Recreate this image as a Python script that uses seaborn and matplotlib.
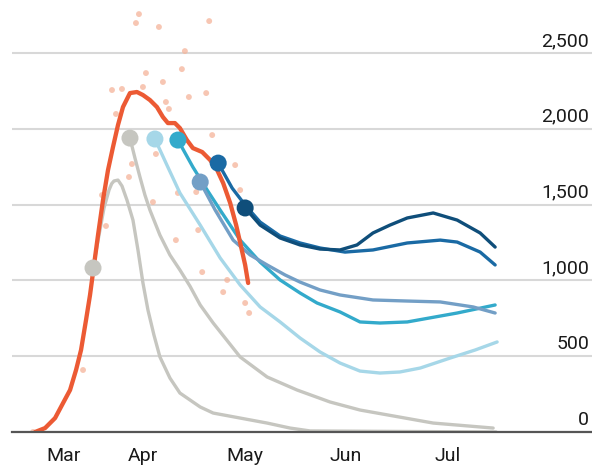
import matplotlib
matplotlib.use("Agg")
import matplotlib.pyplot as plt
import matplotlib.transforms as mtransforms
import pandas as pd
import seaborn as sns

# x values are days counted from 1 March
actual_day = [13.6, 16.6, 19.6, 22.0, 24.1, 25.9, 27.4, 28.9, 30.1, 31.3, 32.5, 34.0,
              35.5, 37.0, 38.5, 40.0, 42.1, 44.2, 46.0, 48.1, 50.2, 52.0, 53.5, 55.6,
              57.1, 59.2, 61.0, 63.8, 66.2, 68.3, 70.1, 72.2, 74.0, 75.5, 76.7, 77.6]
actual_deaths = [0, 26, 92, 191, 277, 409, 541, 739, 904, 1102, 1299, 1530,
                 1728, 1880, 2025, 2144, 2236, 2243, 2223, 2190, 2144, 2078, 2038, 2038,
                 2005, 1926, 1873, 1847, 1794, 1728, 1642, 1511, 1365, 1220, 1102, 983]

daily_day = [44.8, 43.9, 50.8, 65.9, 58.6, 57.7, 46.9, 52.0, 36.7, 39.7, 46.0, 59.8,
             65.0, 52.9, 53.8, 37.9, 66.8, 49.9, 42.7, 41.8, 49.0, 56.5, 62.0, 73.7,
             75.2, 68.9, 62.6, 34.9, 33.7, 55.9, 63.8, 71.3, 70.1, 76.7, 77.9, 28.0, 13.0]
daily_deaths = [2757, 2698, 2672, 2711, 2513, 2394, 2368, 2309, 2256, 2263, 2276, 2210,
                2236, 2177, 2131, 2098, 1959, 1834, 1768, 1682, 1517, 1577, 1583, 1761,
                1596, 1451, 1332, 1359, 1563, 1266, 1055, 1003, 923, 851, 785, 409, 0]

# model projections, each starting from a different date
run1_day = [31.0, 32.8, 34.3, 35.8, 36.6, 37.3, 38.5, 39.7, 41.2, 43.0, 44.5, 46.0, 47.5,
            49.3, 51.1, 54.1, 57.1, 63.2, 67.1, 75.2, 83.3, 90.2, 96.2, 152.1]
run1_deaths = [1082, 1299, 1478, 1596, 1638, 1656, 1662, 1623, 1530, 1398, 1201, 983, 805,
               640, 495, 356, 257, 165, 125, 92, 59, 26, 7, 0]

run2_day = [42.1, 43.6, 45.1, 46.6, 48.1, 51.1, 54.1, 57.1, 60.1, 63.2, 67.1, 75.2,
            83.3, 92.3, 102.2, 111.2, 133.2, 151.2]
run2_deaths = [1939, 1807, 1682, 1563, 1464, 1299, 1168, 1069, 963, 838, 719, 495,
               363, 277, 198, 145, 59, 26]

run3_day = [49.6, 53.2, 57.1, 63.2, 69.2, 75.2, 81.2, 87.2, 93.2, 99.2, 105.2, 111.2,
            117.2, 123.2, 129.3, 138.3, 145.8, 152.4]
run3_deaths = [1933, 1761, 1577, 1365, 1148, 970, 825, 726, 620, 528, 455, 402,
               389, 396, 422, 488, 541, 594]

run4_day = [56.5, 61.0, 65.3, 69.2, 75.2, 81.2, 87.2, 93.2, 98.3, 105.2, 111.2, 117.2,
            125.4, 140.4, 151.8]
run4_deaths = [1926, 1748, 1596, 1464, 1266, 1121, 1003, 917, 851, 792, 726, 719,
               726, 785, 838]

run5_day = [63.2, 67.7, 73.1, 78.2, 83.3, 88.7, 93.2, 99.2, 105.2, 115.1, 125.4, 135.3,
            145.2, 151.8]
run5_deaths = [1649, 1464, 1266, 1168, 1102, 1036, 989, 937, 904, 871, 864, 858,
               825, 785]

run6_day = [68.6, 72.8, 76.7, 81.2, 87.2, 93.2, 99.2, 106.7, 115.1, 125.4, 135.3, 140.4,
            147.3, 151.8]
run6_deaths = [1774, 1609, 1497, 1385, 1293, 1247, 1214, 1187, 1201, 1247, 1266, 1253,
               1187, 1102]

run7_day = [76.7, 81.2, 87.2, 93.2, 99.2, 105.2, 110.3, 115.1, 120.2, 125.4, 133.2, 140.4,
            147.3, 151.8]
run7_deaths = [1478, 1365, 1280, 1234, 1207, 1201, 1234, 1313, 1365, 1412, 1445, 1398,
               1313, 1220]

run_names = ["run1", "run2", "run3", "run4", "run5", "run6", "run7"]
run_colors = ["#C6C6C0", "#C6C6C0", "#A6D7E8", "#33AACB", "#739FC6", "#1A6AA4", "#0F4E7A"]

month_labels = ["Mar", "Apr", "May", "Jun", "Jul"]
month_edges = [13.6, 31, 61, 92, 122, 153]
y_ticks = [0, 500, 1000, 1500, 2000, 2500]
y_labels = ["0", "500", "1,000", "1,500", "2,000", "2,500"]

# long table for the projections
runs = pd.concat([
    pd.DataFrame({"day": d, "deaths": v, "run": n})
    for n, d, v in zip(run_names,
                       [run1_day, run2_day, run3_day, run4_day, run5_day, run6_day, run7_day],
                       [run1_deaths, run2_deaths, run3_deaths, run4_deaths, run5_deaths,
                        run6_deaths, run7_deaths])
])
starts = runs.groupby("run", sort=False).head(1)
actual = pd.DataFrame({"day": actual_day, "deaths": actual_deaths})
daily = pd.DataFrame({"day": daily_day, "deaths": daily_deaths})
palette = dict(zip(run_names, run_colors))

sns.set_style("white")
plt.rcParams["font.family"] = ["Roboto", "DejaVu Sans"]
plt.rcParams["lines.solid_joinstyle"] = "round"
plt.rcParams["lines.solid_capstyle"] = "round"

fig = plt.figure(figsize=(5.92, 4.70), dpi=100)
ax = fig.add_axes([12 / 592, 38 / 470, 1 - 12 / 592, 432 / 470])

sns.scatterplot(data=daily, x="day", y="deaths", ax=ax, color="#F5B49A",
                s=18, alpha=0.75, edgecolor="none", zorder=2)
sns.lineplot(data=runs, x="day", y="deaths", hue="run", palette=palette, ax=ax,
             sort=False, estimator=None, legend=False, linewidth=2.4, zorder=3)
sns.lineplot(data=actual, x="day", y="deaths", ax=ax, color="#EC5A34",
             sort=False, estimator=None, linewidth=3.1, zorder=4)
sns.scatterplot(data=starts, x="day", y="deaths", hue="run", palette=palette, ax=ax,
                s=150, edgecolor="none", legend=False, zorder=5)

ax.set_xlim(6.66, 180.9)
ax.set_ylim(0, 2850)
ax.set_xlabel("")
ax.set_ylabel("")

# horizontal gridlines with labels sitting on them at the right
ax.set_yticks(y_ticks)
ax.yaxis.grid(True, color="#D8D8D8", linewidth=1.5)
ax.tick_params(axis="y", length=0, labelleft=False)
lab_tr = mtransforms.offset_copy(ax.get_yaxis_transform(), fig=fig, x=-3, y=7, units="dots")
for v, lab in zip(y_ticks, y_labels):
    ax.text(1.0, v, lab, transform=lab_tr, ha="right", va="baseline",
            fontsize=14, color="#1A1A1A")

# month boundaries as ticks, names in between
ax.set_xticks(month_edges)
ax.set_xticklabels([])
ax.tick_params(axis="x", which="major", length=9, width=1.6, color="#444444", direction="out")
mids = [(a + b) / 2 for a, b in zip(month_edges[:-1], month_edges[1:])]
ax.set_xticks(mids, minor=True)
ax.set_xticklabels(month_labels, minor=True)
ax.tick_params(axis="x", which="minor", length=0, pad=11, labelsize=14, labelcolor="#1A1A1A")

for side in ["left", "right", "top"]:
    ax.spines[side].set_visible(False)
ax.spines["bottom"].set_color("#555555")
ax.spines["bottom"].set_linewidth(1.6)
ax.spines["bottom"].set_zorder(6)

fig.savefig("out.png", dpi=100)
